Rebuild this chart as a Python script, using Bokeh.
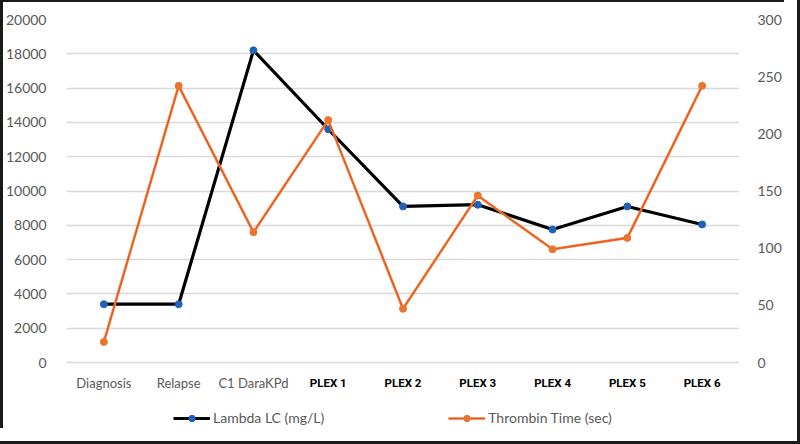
from bokeh.plotting import figure
from bokeh.models import (Range1d, LinearAxis, FixedTicker, FactorRange, ColumnDataSource,
                          Legend, LegendItem)
from bokeh.core.properties import value
from bokeh.embed import file_html
from bokeh.resources import INLINE

categories = ["Diagnosis", "Relapse", "C1 DaraKPd", "PLEX 1", "PLEX 2",
              "PLEX 3", "PLEX 4", "PLEX 5", "PLEX 6"]
lambda_lc = [3400, 3400, 18200, 13600, 9100, 9200, 7750, 9100, 8050]
thrombin_time = [18, 242, 114, 212, 47, 146, 99, 109, 242]
left_ticks = [0, 2000, 4000, 6000, 8000, 10000, 12000, 14000, 16000, 18000, 20000]
right_ticks = [0, 50, 100, 150, 200, 250, 300]
series_names = ["Lambda LC (mg/L)", "Thrombin Time (sec)"]

GRAY = "#595959"
FONT = "Lato"

# layout (pixels)
W, H = 784, 428
FRAME_L, FRAME_R, FRAME_T = 66, 746, 19
ZERO_Y = 362                      # pixel row of value 0
PLOT_H = ZERO_Y - FRAME_T         # pixels spanned by the axis ticks
EXTRA = H - ZERO_Y                # frame continues below zero to hold labels/legend

left_max, right_max = left_ticks[-1], right_ticks[-1]
p = figure(width=W, height=H, output_backend="svg", toolbar_location=None,
           x_range=FactorRange(factors=categories, range_padding=0),
           y_range=Range1d(-left_max * EXTRA / PLOT_H, left_max),
           min_border_left=FRAME_L, min_border_right=W - FRAME_R,
           min_border_top=FRAME_T, min_border_bottom=0)
p.outline_line_color = None
p.background_fill_color = "white"
p.border_fill_color = None
p.styles = {"outline": "3px solid #1a1a1a", "outline-offset": "13px",
            "box-shadow": "inset 3px 2px 0 0 #1a1a1a", "background": "white"}

p.extra_y_ranges = {"right": Range1d(-right_max * EXTRA / PLOT_H, right_max)}

p.xaxis.visible = False
p.xgrid.visible = False

ya = p.yaxis[0]
ya.ticker = FixedTicker(ticks=left_ticks)
ya.axis_line_color = None
ya.major_tick_line_color = None
ya.minor_tick_line_color = None
ya.major_label_text_color = GRAY
ya.major_label_text_font = FONT
ya.major_label_text_font_size = "14px"
ya.major_label_standoff = 14

ra = LinearAxis(y_range_name="right", ticker=FixedTicker(ticks=right_ticks))
ra.axis_line_color = None
ra.major_tick_line_color = None
ra.minor_tick_line_color = None
ra.major_label_text_color = GRAY
ra.major_label_text_font = FONT
ra.major_label_text_font_size = "14px"
ra.major_label_standoff = 12
p.add_layout(ra, "right")

p.ygrid.ticker = FixedTicker(ticks=left_ticks)
p.ygrid.grid_line_color = "#d9d9d9"
p.ygrid.grid_line_width = 1.3

src = ColumnDataSource(dict(cat=categories, lam=lambda_lc, thr=thrombin_time))

l1 = p.line("cat", "lam", source=src, line_color="black", line_width=3.2)
m1 = p.scatter("cat", "lam", source=src, size=7, fill_color="#1f62b8", line_color="#1f62b8")

l2 = p.line("cat", "thr", source=src, y_range_name="right", line_color="#f07a2c", line_width=2.6)
l2b = p.line("cat", "thr", source=src, y_range_name="right", line_color="#e8452a", line_width=0.8)
m2 = p.scatter("cat", "thr", source=src, y_range_name="right", size=7,
               fill_color="#e8742e", line_color="#e8742e")

# x tick labels: first three grey regular, PLEX labels black bold
lab1 = ColumnDataSource(dict(cat=categories[:3], y=[0] * 3, t=categories[:3]))
lab2 = ColumnDataSource(dict(cat=categories[3:], y=[0] * 6, t=categories[3:]))
p.text(x="cat", y="y", text="t", source=lab1, y_offset=20,
       text_align="center", text_baseline="middle", text_color=GRAY,
       text_font=value(FONT), text_font_size="13px")
p.text(x="cat", y="y", text="t", source=lab2, y_offset=20,
       text_align="center", text_baseline="middle", text_color="black",
       text_font=value("Roboto"), text_font_style="bold",
       text_font_size="11.5px")

legend = Legend(items=[LegendItem(label=series_names[0], renderers=[l1, m1]),
                       LegendItem(label=series_names[1], renderers=[l2, l2b, m2])],
                orientation="horizontal", location=(107, 2),
                padding=0, margin=0, spacing=124, glyph_width=37, glyph_height=16,
                label_standoff=3, label_text_color=GRAY, label_text_font=FONT,
                label_text_font_size="14px", label_height=16,
                background_fill_alpha=0, border_line_color=None)
p.add_layout(legend, "center")

open("out.html", "w").write(file_html(p, INLINE))
